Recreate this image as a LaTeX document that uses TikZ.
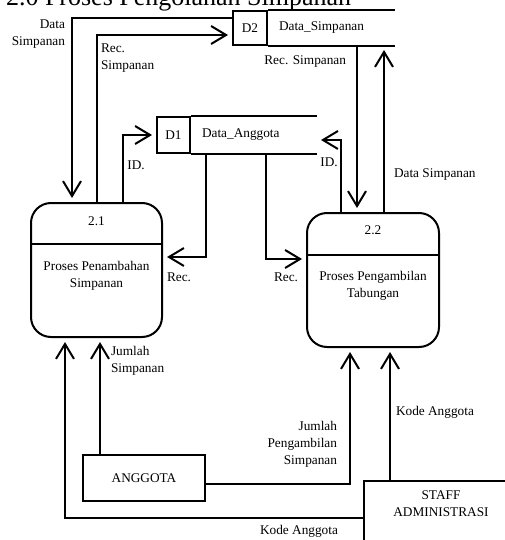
\documentclass[tikz,border=0pt]{standalone}
\usepackage{fontspec}
\setmainfont{Liberation Serif}
\usetikzlibrary{arrows.meta,positioning}

\begin{document}
\begin{tikzpicture}[x=1pt,y=-1pt,line width=2pt,% pixel coordinates, y downwards
        flow/.style={-{Straight Barb[length=15pt,width=18pt]},shorten >=4pt},%open arrow heads
        lbl/.style={font=\fontsize{13.3}{17}\selectfont,inner sep=0pt},
        proc/.style={draw,rounded corners=20pt,minimum width=131pt,minimum height=134pt},
        storeid/.style={draw,lbl,minimum width=34pt,minimum height=34pt},
        storename/.style={lbl,inner xsep=10pt,minimum height=34pt,align=left},
        entity/.style={draw,lbl}]
\useasboundingbox (0,0) rectangle (504,540);
\node[anchor=base west,inner sep=0pt,font=\fontsize{26}{30}\selectfont] (title) at (5,6) {2.0 Proses Pengolahan Simpanan};

% data stores, open on the right
\node[storeid] (d2id) at (250,28) {D2};
\node[storename,right=0pt of d2id,text width=105pt] (d2) {Data\_Simpanan};
\draw (d2id.north east) -- (d2.north east) (d2id.south east) -- (d2.south east);
\node[storeid,minimum width=33pt,minimum height=36pt] (d1id) at (173.5,135) {D1};
\node[storename,right=0pt of d1id,minimum height=36pt,text width=104pt] (d1) {Data\_Anggota};
\draw (d1id.north east) -- (d1.north east) (d1id.south east) -- (d1.south east);

% processes
\node[proc] (p1) at (96.5,270) {};
\draw ([yshift=-42pt]p1.north west) -- ([yshift=-42pt]p1.north east);
\node[lbl] (p1num) at ([yshift=-19pt]p1.north) {2.1};
\node[lbl,align=center] (p1txt) at ([yshift=-74pt]p1.north) {Proses Penambahan\\Simpanan};
\node[proc,minimum width=132pt] (p2) at (373,280) {};
\draw ([yshift=-43pt]p2.north west) -- ([yshift=-43pt]p2.north east);
\node[lbl] (p2num) at ([yshift=-18pt]p2.north) {2.2};
\node[lbl,align=center] (p2txt) at ([yshift=-74pt]p2.north) {Proses Pengambilan\\Tabungan};

% external entities
\node[entity,minimum width=122pt,minimum height=46pt] (anggota) at (144,478) {ANGGOTA};
\node[entity,minimum width=154pt,minimum height=75pt,anchor=north west] (staff) at (363,480) {};
\node[lbl,align=center] (stafftxt) at ([yshift=-24pt]staff.north) {STAFF\\ADMINISTRASI};

% flows
\draw[flow] ([yshift=10pt]d2id.west) -| ([xshift=-24.5pt]p1.north);
\node[lbl,anchor=east,align=right] (lblds1) at (66,34) {Data\\Simpanan};
\draw[flow] (p1.north) |- ([yshift=-7pt]d2id.west);
\node[lbl,anchor=west,align=left] (lblrs1) at (100,58) {Rec.\\Simpanan};
\draw[flow] ([xshift=26.5pt]p1.north) |- (d1id.west);
\node[lbl] (lblid1) at (136,165) {ID.};
\draw[flow] ([xshift=-48pt]d1.south) |- ([yshift=13pt]p1.east);
\node[lbl] (lblrec1) at (179,277) {Rec.};
\draw[flow] ([xshift=12pt]d1.south) |- ([yshift=21pt]p2.west);
\node[lbl] (lblrec2) at (286,277) {Rec.};
\draw[flow] ([xshift=-32pt]p2.north) |- ([yshift=-5pt]d1.east);
\node[lbl] (lblid2) at (329,162) {ID.};
\draw[flow] ([xshift=-16pt]p2.north |- d2.south) -- ([xshift=-16pt]p2.north);
\node[lbl,anchor=east] (lblrs2) at (347,62) {Rec. Simpanan};
\draw[flow] ([xshift=11pt]p2.north) -- ([xshift=11pt]p2.north |- d2.south);
\node[lbl,anchor=west] (lblds2) at (393,175) {Data Simpanan};
\draw[flow] ([yshift=-38pt]staff.north west) -| ([xshift=-31.5pt]p1.south);
\node[lbl] (lblka1) at (299,531) {Kode Anggota};
\draw[flow] ([xshift=-44pt]anggota.north) -- ([xshift=-44pt]anggota.north |- p1.south);
\node[lbl,anchor=west,align=left] (lbljs) at (110,361) {Jumlah\\Simpanan};
\draw[flow] ([yshift=-6pt]anggota.east) -| ([xshift=-23pt]p2.south);
\node[lbl,anchor=east,align=right] (lbljps) at (338,444) {Jumlah\\Pengambilan\\Simpanan};
\draw[flow] ([xshift=17pt]p2.south |- staff.north) -- ([xshift=17pt]p2.south);
\node[lbl,anchor=west] (lblka2) at (395,412) {Kode Anggota};
\end{tikzpicture}
\end{document}
